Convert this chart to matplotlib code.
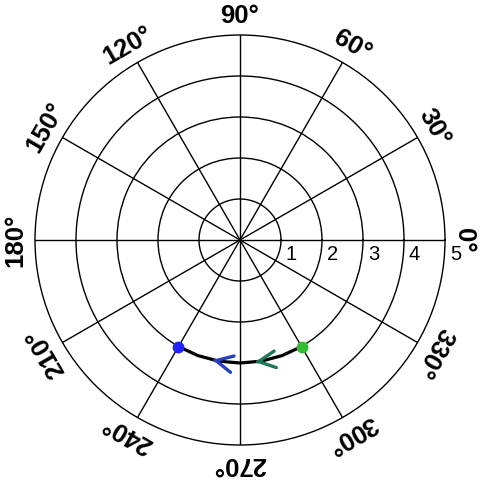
import numpy as np
import matplotlib
matplotlib.use('Agg')
import matplotlib.pyplot as plt

# Trajectory (degrees, radius)
path_theta = [300, 290, 280, 270, 260, 250, 240]
path_r = [3, 3, 3, 3, 3, 3, 3]

# Start / end markers
start_point = (300, 3)
end_point = (240, 3)

# Arrow tips along the path
arrow_theta = [277, 257]
arrow_r = [3, 3]
arrow_colors = ['#1b7a55', '#2340c0']

ring_values = [1, 2, 3, 4, 5]
angle_ticks = [0, 30, 60, 90, 120, 150, 180, 210, 240, 270, 300, 330]

plt.rcParams['font.family'] = ['Liberation Sans', 'DejaVu Sans']

fig = plt.figure(figsize=(4.8, 4.8), dpi=100)
fig.patch.set_facecolor('white')
ax = fig.add_axes([35 / 480, 35 / 480, 410 / 480, 410 / 480], projection='polar')

ax.set_ylim(0, 5)
ax.set_rticks(ring_values[:-1])
ax.set_yticklabels([])
ax.set_thetagrids(angle_ticks, labels=[''] * len(angle_ticks))
ax.grid(True, color='black', linewidth=1.0, linestyle='-')
ax.spines['polar'].set_color('black')
ax.spines['polar'].set_linewidth(1.0)
ax.tick_params(length=0)

# Angle labels rotated tangentially
for a in angle_ticks:
    ax.text(np.deg2rad(a), 5.47, f"{a}\u00b0", rotation=a - 90,
            ha='center', va='center', fontsize=18.5, fontweight='bold',
            rotation_mode='anchor', clip_on=False)

# Radial labels just right of each ring, below the 0 deg line
for rv in ring_values:
    ax.annotate(str(rv), xy=(0, rv), xytext=(3.5, -3.5), textcoords='offset points',
                ha='left', va='top', fontsize=14.5, annotation_clip=False)

# Path
ax.plot(np.deg2rad(path_theta), path_r, color='black', linewidth=2.3, zorder=3)

# Direction arrows
for t, r, c in zip(arrow_theta, arrow_r, arrow_colors):
    ax.annotate('', xy=(np.deg2rad(t), r), xytext=(np.deg2rad(t + 1.5), r),
                arrowprops=dict(arrowstyle='->', color=c, lw=2.4,
                                mutation_scale=30, shrinkA=0, shrinkB=0),
                zorder=4)

ax.plot(np.deg2rad(start_point[0]), start_point[1], 'o', color='#33bb33',
        markersize=7.5, zorder=5)
ax.plot(np.deg2rad(end_point[0]), end_point[1], 'o', color='#2222ff',
        markersize=7.5, zorder=5)

fig.savefig('out.png', dpi=100, facecolor='white')
